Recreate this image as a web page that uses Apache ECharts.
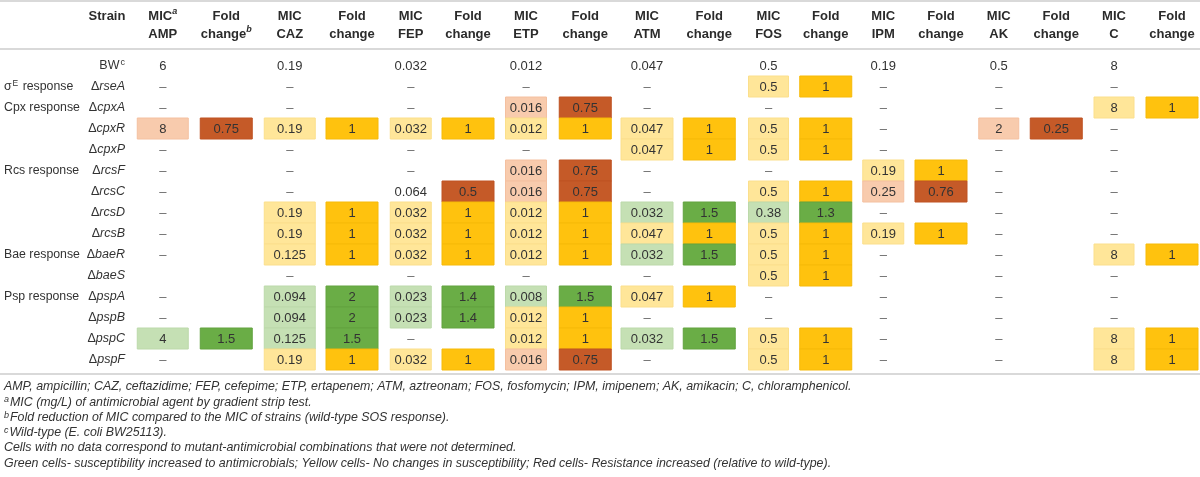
<!DOCTYPE html>
<html>
<head>
<meta charset="utf-8">
<script src="https://cdn.jsdelivr.net/npm/echarts@6/dist/echarts.min.js"></script>
<style>
html,body{margin:0;padding:0;background:#fff;}
#chart{width:1200px;height:477px;}
</style>
</head>
<body>
<div id="chart"></div>
<script>
// ---------------- DATA ----------------
const strains = ['BW','rseA','cpxA','cpxR','cpxP','rcsF','rcsC','rcsD','rcsB','baeR','baeS','pspA','pspB','pspC','pspF'];
const groups  = ['','σE response','Cpx response','','','Rcs response','','','','Bae response','','Psp response','','',''];
const drugs   = ['AMP','CAZ','FEP','ETP','ATM','FOS','IPM','AK','C'];

// MIC values ('–' = not determined, '' = empty cell)
const micAMP = ['6','–','–','8','–','–','–','–','–','–','','–','–','4','–'];
const micCAZ = ['0.19','–','–','0.19','–','–','–','0.19','0.19','0.125','–','0.094','0.094','0.125','0.19'];
const micFEP = ['0.032','–','–','0.032','–','–','0.064','0.032','0.032','0.032','–','0.023','0.023','–','0.032'];
const micETP = ['0.012','–','0.016','0.012','–','0.016','0.016','0.012','0.012','0.012','–','0.008','0.012','0.012','0.016'];
const micATM = ['0.047','–','–','0.047','0.047','–','–','0.032','0.047','0.032','–','0.047','–','0.032','–'];
const micFOS = ['0.5','0.5','–','0.5','0.5','–','0.5','0.38','0.5','0.5','0.5','–','–','0.5','0.5'];
const micIPM = ['0.19','–','–','–','–','0.19','0.25','–','0.19','–','–','–','–','–','–'];
const micAK  = ['0.5','–','–','2','–','–','–','–','–','–','–','–','–','–','–'];
const micC   = ['8','–','8','–','–','–','–','–','–','8','–','–','–','8','8'];

// Fold change values
const foldAMP = ['','','','0.75','','','','','','','','','','1.5',''];
const foldCAZ = ['','','','1','','','','1','1','1','','2','2','1.5','1'];
const foldFEP = ['','','','1','','','0.5','1','1','1','','1.4','1.4','','1'];
const foldETP = ['','','0.75','1','','0.75','0.75','1','1','1','','1.5','1','1','0.75'];
const foldATM = ['','','','1','1','','','1.5','1','1.5','','1','','1.5',''];
const foldFOS = ['','1','','1','1','','1','1.3','1','1','1','','','1','1'];
const foldIPM = ['','','','','','1','0.76','','1','','','','','',''];
const foldAK  = ['','','','0.25','','','','','','','','','','',''];
const foldC   = ['','','1','','','','','','','1','','','','1','1'];

// Shading: G = susceptibility increased, Y = no change, R = resistance increased
// lowercase = only the fold-change cell is shaded
const shadeAMP = ['','','','R','','','','','','','','','','G',''];
const shadeCAZ = ['','','','Y','','','','Y','Y','Y','','G','G','G','Y'];
const shadeFEP = ['','','','Y','','','r','Y','Y','Y','','G','G','','Y'];
const shadeETP = ['','','R','Y','','R','R','Y','Y','Y','','G','Y','Y','R'];
const shadeATM = ['','','','Y','Y','','','G','Y','G','','Y','','G',''];
const shadeFOS = ['','Y','','Y','Y','','Y','G','Y','Y','Y','','','Y','Y'];
const shadeIPM = ['','','','','','Y','R','','Y','','','','','',''];
const shadeAK  = ['','','','R','','','','','','','','','','',''];
const shadeC   = ['','','Y','','','','','','','Y','','','','Y','Y'];

const footnotes = [
  '{t|AMP, ampicillin; CAZ, ceftazidime; FEP, cefepime; ETP, ertapenem; ATM, aztreonam; FOS, fosfomycin; IPM, imipenem; AK, amikacin; C, chloramphenicol.}',
  '{s|a}{t|MIC (mg/L) of antimicrobial agent by gradient strip test.}',
  '{s|b}{t|Fold reduction of MIC compared to the MIC of strains (wild-type SOS response).}',
  '{s|c}{t|Wild-type (E. coli BW25113).}',
  '{t|Cells with no data correspond to mutant-antimicrobial combinations that were not determined.}',
  '{t|Green cells- susceptibility increased to antimicrobials; Yellow cells- No changes in susceptibility; Red cells- Resistance increased (relative to wild-type).}'
];

// ---------------- LAYOUT ----------------
const FONT = "'Liberation Sans', Arial, Helvetica, sans-serif";
const tableStart = 131;
const colW = [63.5,63.5,63.5,61,56.5,58,58,60.5,63,61.5,57,57.5,57.5,58,57.5,57.5,58,58];
const micCellW = [51,51,41,41,52,40,41,40,40];
const foldCellW = 52;
const strainHeaderX = 107;
const colors = {
  R:'#f8cbad', RR:'#c55a28',
  Y:'#ffe699', YY:'#ffc20e',
  G:'#c5e0b4', GG:'#6aad46'
};
const strokes = {
  R:'#f4c0a0', RR:'#bf5222',
  Y:'#fbdf8c', YY:'#f6ba08',
  G:'#bcd9aa', GG:'#62a33f'
};

const mics   = [micAMP,micCAZ,micFEP,micETP,micATM,micFOS,micIPM,micAK,micC];
const folds  = [foldAMP,foldCAZ,foldFEP,foldETP,foldATM,foldFOS,foldIPM,foldAK,foldC];
const shades = [shadeAMP,shadeCAZ,shadeFEP,shadeETP,shadeATM,shadeFOS,shadeIPM,shadeAK,shadeC];

// column centers
const centers = [];
let acc = tableStart;
colW.forEach(w => { centers.push(acc + w / 2); acc += w; });

// cells
const cells = [];
drugs.forEach((d, i) => {
  const xm = centers[2 * i], xf = centers[2 * i + 1];
  strains.forEach((s, r) => {
    const sh = shades[i][r];
    const up = sh.toUpperCase();
    const mic = mics[i][r];
    if (mic !== '') {
      cells.push({x: xm, row: r, text: mic, w: micCellW[i],
        fill: (sh && sh === up) ? colors[up] : null,
        stroke: (sh && sh === up) ? strokes[up] : null});
    }
    const f = folds[i][r];
    if (f !== '') {
      cells.push({x: xf, row: r, text: f, w: foldCellW,
        fill: up ? colors[up + up] : null, stroke: up ? strokes[up + up] : null});
    }
  });
});

// header labels
const headerMap = new Map();
headerMap.set(strainHeaderX, '{b|Strain}\n{b| }');
drugs.forEach((d, i) => {
  headerMap.set(centers[2 * i], i === 0 ? '{b|MIC}{sup|a}\n{b|' + d + '}' : '{b|MIC}\n{b|' + d + '}');
  headerMap.set(centers[2 * i + 1], i === 0 ? '{b|Fold}\n{b|change}{sup|b}' : '{b|Fold}\n{b|change}');
});
const headerValues = [strainHeaderX].concat(centers);

const strainLabel = s => s === 'BW' ? '{n|BW}{sup|c}' : '{n|Δ}{i|' + s + '}';
const groupLabel = g => g === '' ? '' : (g.startsWith('σE') ? '{n|σ}{sup|E}{n| response}' : '{n|' + g + '}');

const chart = echarts.init(document.getElementById('chart'), null, {renderer: 'canvas'});

const lineY = [1, 49, 374];
const footY = [387, 402.5, 418, 433, 448, 463.5];

const option = {
  animation: false,
  backgroundColor: '#fff',
  grid: {left: 0, right: 0, top: 55, height: 315},
  xAxis: {
    type: 'value', min: 0, max: 1200, position: 'top',
    axisLine: {show: false}, axisTick: {show: false}, splitLine: {show: false},
    axisLabel: {
      customValues: headerValues,
      margin: 12,
      formatter: v => headerMap.get(v) || '',
      rich: {
        b: {fontFamily: FONT, fontSize: 13, fontWeight: 'bold', color: '#2b2b2b', lineHeight: 18},
        sup: {fontFamily: FONT, fontSize: 9, fontWeight: 'bold', fontStyle: 'italic', color: '#2b2b2b', lineHeight: 18, verticalAlign: 'top', padding: [0, 0, 6, 0]}
      }
    }
  },
  yAxis: [
    {
      type: 'category', data: strains, inverse: true, position: 'left', offset: -126,
      axisLine: {show: false}, axisTick: {show: false}, splitLine: {show: false},
      axisLabel: {
        margin: 1, align: 'right',
        formatter: strainLabel,
        rich: {
          n: {fontFamily: FONT, fontSize: 12.5, color: '#333'},
          i: {fontFamily: FONT, fontSize: 12.5, fontStyle: 'italic', color: '#333'},
          sup: {fontFamily: FONT, fontSize: 9, color: '#333', verticalAlign: 'top', padding: [0, 0, 6, 1]}
        }
      }
    },
    {
      type: 'category', data: groups, inverse: true, position: 'left', offset: -4,
      axisLine: {show: false}, axisTick: {show: false}, splitLine: {show: false},
      axisLabel: {
        margin: 0, align: 'left', interval: 0,
        formatter: groupLabel,
        rich: {
          n: {fontFamily: FONT, fontSize: 12.3, color: '#333'},
          sup: {fontFamily: FONT, fontSize: 8.5, color: '#333', verticalAlign: 'top', padding: [0, 1, 6, 1]}
        }
      }
    }
  ],
  series: [{
    type: 'custom',
    coordinateSystem: 'cartesian2d',
    xAxisIndex: 0, yAxisIndex: 0,
    data: cells.map(c => [c.x, c.row]),
    renderItem: (params, api) => {
      const c = cells[params.dataIndex];
      const p = api.coord([api.value(0), api.value(1)]);
      const h = api.size([0, 1])[1];
      const children = [];
      if (c.fill) {
        children.push({
          type: 'rect',
          shape: {x: p[0] - c.w / 2, y: p[1] - h / 2, width: c.w, height: h},
          style: {fill: c.fill, stroke: c.stroke, lineWidth: 1}
        });
      }
      const dash = c.text === '–';
      children.push({
        type: 'text',
        x: p[0], y: p[1] + 0.5,
        style: {
          text: c.text, align: 'center', verticalAlign: 'middle',
          fontFamily: FONT, fontSize: 13, fill: dash ? '#666' : '#333'
        }
      });
      return {type: 'group', children: children};
    }
  }],
  graphic: lineY.map(y => ({
    type: 'line', silent: true,
    shape: {x1: 0, y1: y, x2: 1200, y2: y},
    style: {stroke: '#d9d9d9', lineWidth: 2}
  })).concat(footnotes.map((t, k) => ({
    type: 'text', silent: true, x: 4, y: footY[k],
    style: {
      text: t, verticalAlign: 'middle', align: 'left',
      rich: {
        t: {fontFamily: FONT, fontSize: 12.4, fontStyle: 'italic', fill: '#333', color: '#333'},
        s: {fontFamily: FONT, fontSize: 9, fontStyle: 'italic', fill: '#333', color: '#333', verticalAlign: 'top', padding: [0, 1, 6, 0]}
      }
    }
  })))
};
chart.setOption(option);
</script>
</body>
</html>
